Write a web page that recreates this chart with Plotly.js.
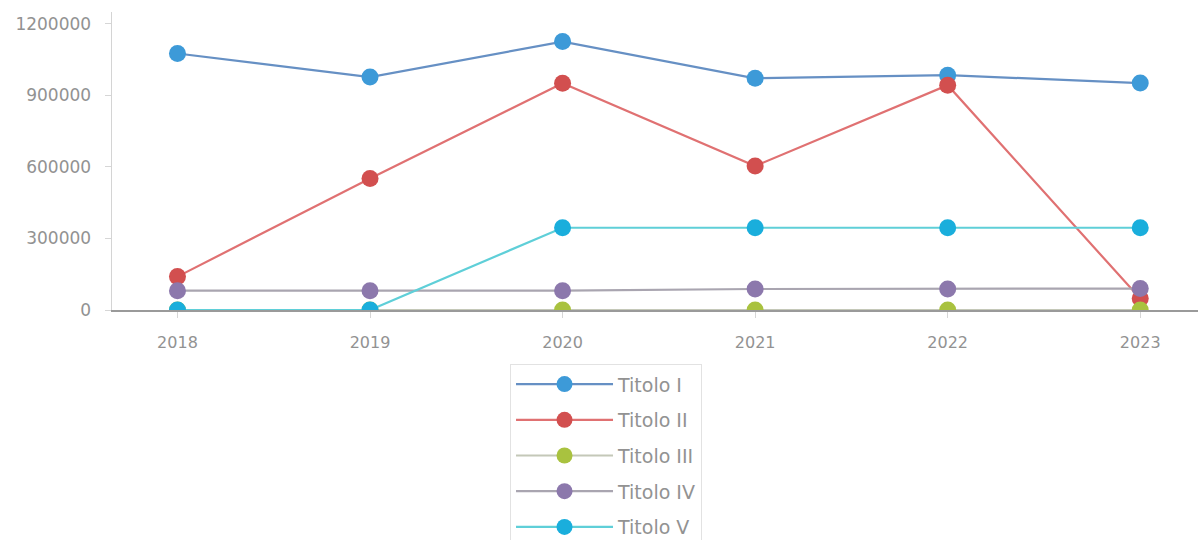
<!DOCTYPE html>
<html>
<head>
<meta charset="utf-8">
<script src="https://cdn.plot.ly/plotly-3.0.1.min.js"></script>
<style>
  html, body { margin: 0; padding: 0; background: #fff; }
  #chart { width: 1198px; height: 540px; }
</style>
</head>
<body>
<div id="chart"></div>
<script>
// Years on the category axis
const years = ['2018', '2019', '2020', '2021', '2022', '2023'];

// One series per title
const titoloI   = [1076000, 977000, 1126000, 972000, 985000, 952000];
const titoloII  = [140000, 552000, 951000, 604000, 943000, 48000];
const titoloIII = [0, 0, 0, 0, 0, 0];
const titoloIV  = [81000, 81000, 81000, 88000, 88000, 90000];
const titoloV   = [0, 0, 345000, 345000, 345000, 345000];

const seriesNames = ['Titolo I', 'Titolo II', 'Titolo III', 'Titolo IV', 'Titolo V'];
const yTickValues = [0, 300000, 600000, 900000, 1200000];

const seriesData = [titoloI, titoloII, titoloIII, titoloIV, titoloV];
const lineColors   = ['#6690c4', '#e07172', '#c4c8b8', '#a9a5b0', '#5fcfd8'];
const markerColors = ['#3d9ad8', '#d24f4f', '#a9c23f', '#8c78ac', '#1aaedc'];

const traces = seriesData.map((vals, i) => ({
  type: 'scatter',
  mode: 'lines+markers',
  name: seriesNames[i],
  x: years,
  y: vals,
  legendgroup: 'g' + i,
  cliponaxis: true,
  line: { color: lineColors[i], width: 2.2 },
  marker: { color: markerColors[i], size: 17, line: { width: 0 } }
}));

const textColor = '#929292';

const layout = {
  width: 1198,
  height: 540,
  paper_bgcolor: '#ffffff',
  plot_bgcolor: '#ffffff',
  margin: { l: 112, r: 0, t: 12, b: 230, pad: 0, autoexpand: false },
  showlegend: true,
  xaxis: {
    type: 'category',
    range: [-0.34, 5.30],
    showgrid: false,
    zeroline: false,
    showline: true,
    linecolor: '#9a9a9a',
    linewidth: 1.5,
    ticks: 'outside',
    ticklen: 6,
    tickcolor: '#d6d6d6',
    tickfont: { family: 'DejaVu Sans, sans-serif', size: 16, color: textColor },
    ticklabelstandoff: 11,
    fixedrange: true
  },
  yaxis: {
    range: [0, 1250000],
    tickvals: yTickValues,
    tickformat: 'd',
    showgrid: false,
    zeroline: false,
    showline: true,
    linecolor: '#d4d4d4',
    linewidth: 1.5,
    ticks: 'outside',
    ticklen: 6,
    tickcolor: '#d6d6d6',
    tickfont: { family: 'DejaVu Sans, sans-serif', size: 17, color: textColor },
    ticklabelstandoff: 10,
    fixedrange: true
  },
  legend: {
    orientation: 'v',
    x: 0.3665,
    xanchor: 'left',
    y: -0.182,
    yanchor: 'top',
    bgcolor: '#ffffff',
    bordercolor: '#e2e2e2',
    borderwidth: 1,
    traceorder: 'grouped',
    tracegroupgap: 8,
    itemwidth: 97,
    font: { family: 'DejaVu Sans, sans-serif', size: 19, color: textColor }
  }
};

Plotly.newPlot('chart', traces, layout, { displayModeBar: false, staticPlot: true });
</script>
</body>
</html>
